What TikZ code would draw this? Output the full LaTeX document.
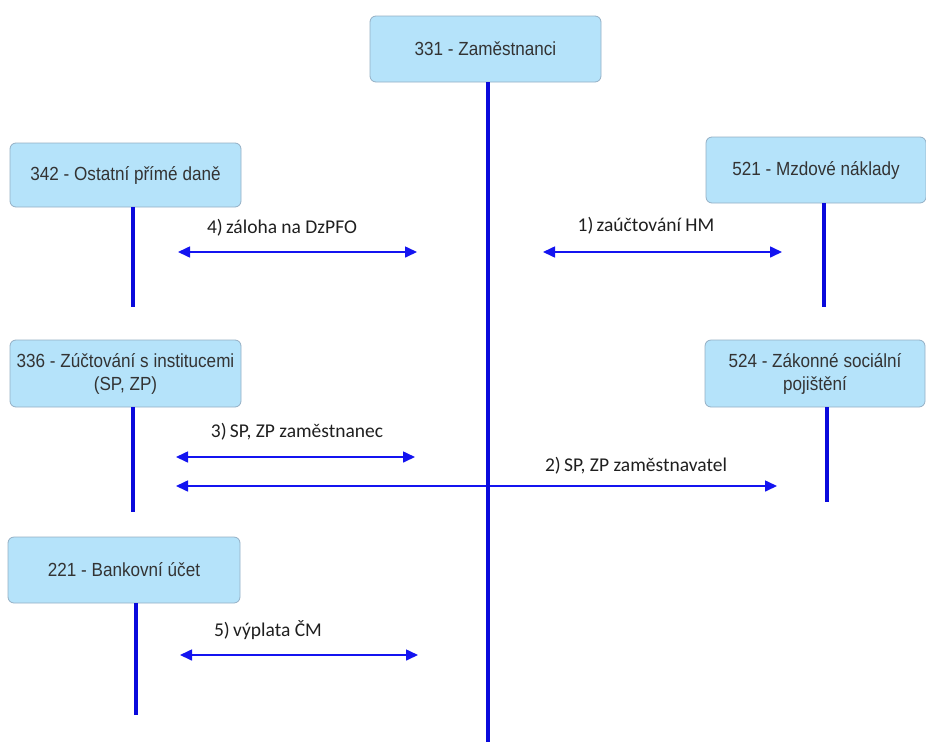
\documentclass[tikz,border=0pt]{standalone}
\usepackage{fontspec}
\usetikzlibrary{arrows.meta}
\newfontfamily\boxfont[FakeStretch=0.9]{Liberation Sans}
\newfontfamily\lblfont{Carlito}
\definecolor{boxfill}{HTML}{B5E3FA}
\definecolor{boxline}{HTML}{94AFC4}
\definecolor{boxtext}{HTML}{333333}
\definecolor{thickblue}{HTML}{0A0ADC}
\definecolor{arrblue}{HTML}{1414F0}
\begin{document}
\begin{tikzpicture}[x=1pt,y=-1pt,
  acct/.style={draw=boxline, line width=0.8pt, fill=boxfill, rounded corners=6pt,
    font=\boxfont\fontsize{19}{23}\selectfont, text=boxtext, align=center,
    inner sep=0pt},
  tline/.style={draw=thickblue, line width=4pt},
  dblarrow/.style={draw=arrblue, line width=1.6pt,
    {Triangle[length=12pt,width=11pt]}-{Triangle[length=12pt,width=11pt]}},
  lbl/.style={font=\lblfont\fontsize{19.5}{23}\selectfont, text=black!88, inner sep=0pt}
]
\useasboundingbox (0,0) rectangle (926,742);

% account boxes
\node[acct, minimum width=231pt, minimum height=66pt] (b331) at (485.5,49) {331 - Zaměstnanci};
\node[acct, minimum width=231pt, minimum height=64pt] (b342) at (125.5,175) {342 - Ostatní přímé daně};
\node[acct, minimum width=220pt, minimum height=66pt] (b521) at (816,170) {521 - Mzdové náklady};
\node[acct, minimum width=231pt, minimum height=67pt] (b336) at (125.5,373.5) {336 - Zúčtování s institucemi\\(SP, ZP)};
\node[acct, minimum width=220pt, minimum height=67pt] (b524) at (815,373.5) {524 - Zákonné sociální\\pojištění};
\node[acct, minimum width=232pt, minimum height=66pt] (b221) at (124,570) {221 - Bankovní účet};

% ends of the account lines
\coordinate (e331) at (488,742);
\coordinate (e342) at (133,307);
\coordinate (e521) at (824,307);
\coordinate (e336) at (133,512);
\coordinate (e524) at (827,502);
\coordinate (e221) at (136,715);

% arrow end points
\coordinate (a4l) at (178,252);
\coordinate (a4r) at (417,252);
\coordinate (a1l) at (543,252);
\coordinate (a1r) at (782,252);
\coordinate (a3l) at (176,457);
\coordinate (a3r) at (415,457);
\coordinate (a2l) at (176,486);
\coordinate (a2r) at (777,486);
\coordinate (a5l) at (180,655);
\coordinate (a5r) at (418,655);

% arrows
\draw[dblarrow] (a4l) -- (a4r);
\draw[dblarrow] (a1l) -- (a1r);
\draw[dblarrow] (a3l) -- (a3r);
\draw[dblarrow] (a2l) -- (a2r);
\draw[dblarrow] (a5l) -- (a5r);

% account lines
\draw[tline] (b331.south -| e331) -- (e331);
\draw[tline] (b342.south -| e342) -- (e342);
\draw[tline] (b521.south -| e521) -- (e521);
\draw[tline] (b336.south -| e336) -- (e336);
\draw[tline] (b524.south -| e524) -- (e524);
\draw[tline] (b221.south -| e221) -- (e221);

% labels
\node[lbl] (l4) at (282,228) {4)\,záloha na DzPFO};
\node[lbl] (l1) at (646,226) {1)\,zaúčtování HM};
\node[lbl] (l3) at (297,432) {3)\,SP, ZP zaměstnanec};
\node[lbl] (l2) at (636,466) {2)\,SP, ZP zaměstnavatel};
\node[lbl] (l5) at (268,630) {5)\,výplata ČM};
\end{tikzpicture}
\end{document}
